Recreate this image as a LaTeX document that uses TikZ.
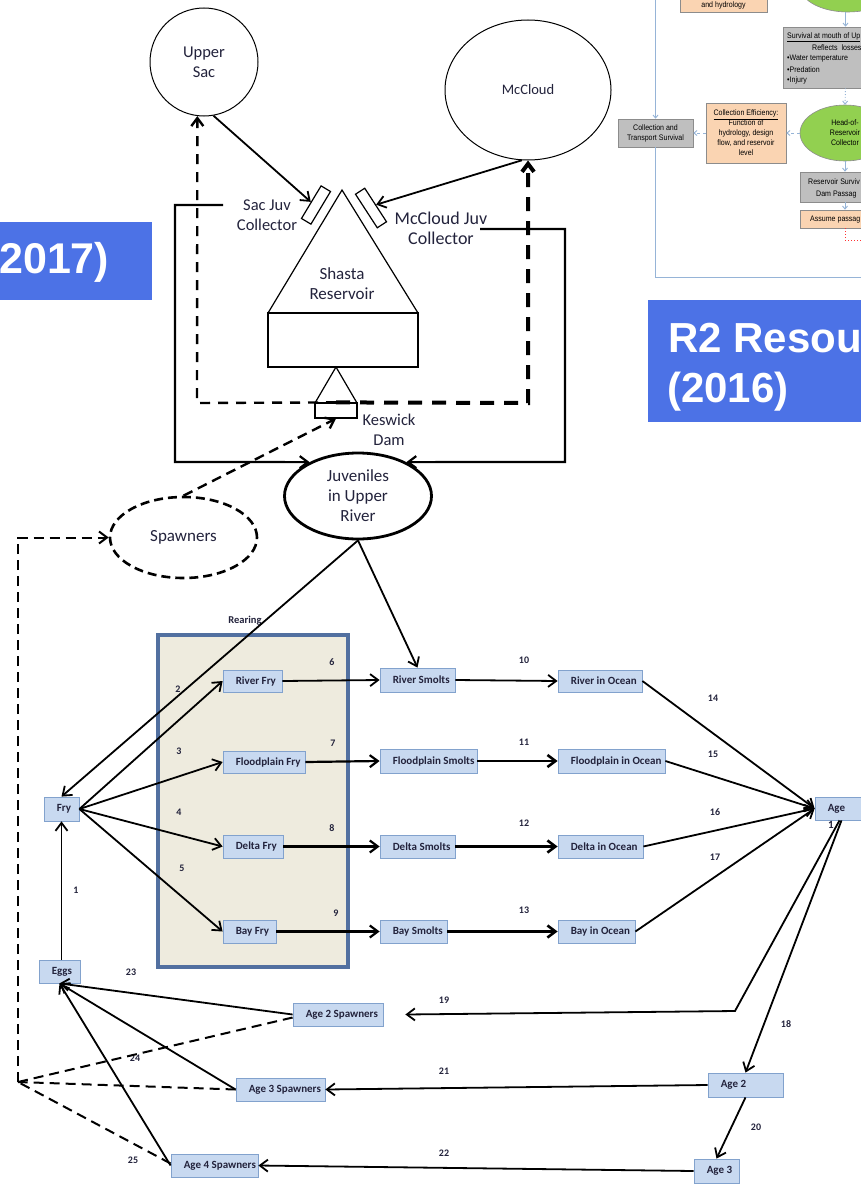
\documentclass[tikz,border=0pt]{standalone}
\usepackage{fontspec}
\setmainfont{Carlito}
\newfontfamily\arialf{Liberation Sans}
\newfontfamily\insetf{Liberation Sans}[FakeStretch=0.88]
\usetikzlibrary{arrows.meta,shapes.geometric,calc}
\definecolor{boxfill}{RGB}{200,217,240}
\definecolor{boxline}{RGB}{130,162,205}
\definecolor{rearfill}{RGB}{238,235,222}
\definecolor{rearline}{RGB}{82,112,160}
\definecolor{lblue}{RGB}{76,114,230}
\definecolor{ibl}{RGB}{150,180,215}
\definecolor{igray}{RGB}{191,191,191}
\definecolor{igrayline}{RGB}{140,140,140}
\definecolor{iorange}{RGB}{250,212,178}
\definecolor{igreen}{RGB}{146,208,80}
\definecolor{txtc}{RGB}{35,35,60}
\newcommand\mkbox[6]{%
  \node[bxs,minimum width={#4-#2},minimum height={#5-#3}] (#1) at ({(#2+#4)/2},{(#3+#5)/2}) {};
  \node[btxt] (#1t) at ([xshift=13pt]#1.west) {#6};}
\begin{document}
\begin{tikzpicture}[x=1pt,y=-1pt,
  >={Straight Barb[length=8pt,width=12pt]},
  arr/.style={->,line width=1.8pt},
  arrthick/.style={->,line width=2.6pt},
  dsh/.style={line width=2pt,dash pattern=on 10pt off 6pt},
  bxs/.style={draw=boxline,fill=boxfill,line width=0.8pt,inner sep=0pt,rectangle},
  btxt/.style={font=\bfseries\fontsize{11}{13}\selectfont,inner sep=0pt,anchor=west,text=txtc},
  num/.style={font=\bfseries\fontsize{10}{12}\selectfont,inner sep=0pt,text=txtc},
  lab/.style={font=\fontsize{17}{20}\selectfont,align=center,inner sep=0pt,text=txtc},
  ibox/.style={draw=igrayline,line width=0.6pt,inner sep=0pt,rectangle},
  itxt/.style={font=\insetf\fontsize{8}{10}\selectfont,inner sep=0pt,align=center},
  iarr/.style={draw=ibl,line width=0.9pt,-{Straight Barb[length=3pt,width=5pt]}},
  bluelab/.style={font=\arialf\bfseries\fontsize{43}{48}\selectfont,text=white,inner sep=0pt,anchor=base west}
]
\useasboundingbox (0,0) rectangle (861,1199);
\fill[white] (0,0) rectangle (861,1199);

% ---------------- inset (top right) ----------------
\node[ellipse,fill=igreen,draw=igrayline,line width=0.6pt,minimum width=95,minimum height=50] (topg) at (848,-13) {};
\node[ibox,fill=iorange,minimum width=87,minimum height=24] (hyd) at (723.5,0) {};
\node[itxt] (hydt) at (723.5,5) {and hydrology};
\node[ibox,fill=igray,minimum width=125,minimum height=61] (surv) at (845.5,57.5) {};
\node[itxt,anchor=west] (survt1) at (787,37) {\underline{Survival at mouth of Up}};
\node[itxt,anchor=west] (survt2) at (812,47.5) {Reflects\ \ losses};
\node[itxt,anchor=west] (survt3) at (787,58.5) {•Water temperature};
\node[itxt,anchor=west] (survt4) at (787,69.5) {•Predation};
\node[itxt,anchor=west] (survt5) at (787,80.5) {•Injury};
\node[ellipse,fill=igreen,draw=igrayline,line width=0.6pt,minimum width=90,minimum height=56,itxt] (head) at (845,133) {Head-of-\\Reservoir\\Collector};
\node[ibox,fill=iorange,minimum width=80,minimum height=60,itxt] (ceff) at (746,133) {\underline{Collection Efficiency:}\\Function of\\hydrology, design\\flow, and reservoir\\level};
\node[ibox,fill=igray,minimum width=75,minimum height=28,itxt] (ctrans) at (655.5,133) {Collection and\\Transport Survival};
\node[ibox,fill=igray,minimum width=90,minimum height=30] (ressv) at (845,187) {};
\node[itxt,anchor=west] (ressvt1) at (808,182) {Reservoir Surviv};
\node[itxt,anchor=west] (ressvt2) at (816,195) {Dam Passag};
\node[ibox,fill=iorange,minimum width=90,minimum height=18] (assume) at (845,219) {};
\node[itxt,anchor=west] (assumet) at (810,219.5) {Assume passag};
\coordinate (framet) at (655.5,0);
\coordinate (framee) at (870,277);
\coordinate (redend) at (870,240);
\draw[iarr] (framet) -- (ctrans.north);
\draw[ibl,line width=0.9pt] (ctrans.south) |- (framee);
\draw[iarr] (surv.north |- topg.south) -- (surv.north);
\draw[iarr,dotted] (surv.south) -- (head.north);
\draw[iarr] (head.south) -- (ressv.north);
\draw[iarr] (ressv.south) -- (assume.north);
\draw[iarr,dashed] (head.west) -- (ceff.east);
\draw[iarr,dashed] (ceff.west) -- (ctrans.east);
\draw[red!80,dotted,line width=1pt] (assume.south) |- (redend);

% ---------------- upper section ----------------
\node[ellipse,draw,line width=1pt,minimum width=108,minimum height=108,lab,font=\fontsize{16.5}{20}\selectfont] (upsac) at (204,62) {Upper\\Sac};
\node[ellipse,draw,line width=1pt,minimum width=166,minimum height=140,lab,font=\fontsize{14.5}{18}\selectfont] (mcc) at (528,90) {McCloud};
\draw[line width=1.2pt] (268,313) -- (342,190) -- (418,313);
\draw[line width=1.2pt,fill=white] (268,313) rectangle (418,367);
\node[lab] (shtxt) at (342,284) {Shasta\\Reservoir};
\draw[line width=1.2pt] (315,403) -- (336,367) -- (357,403);
\node[draw,line width=1.2pt,fill=white,minimum width=42,minimum height=15,inner sep=0pt] (kes) at (336,410.5) {};
\node[lab,font=\fontsize{16.5}{20}\selectfont] (kestxt) at (389,430) {Keswick\\Dam};
\node[draw,line width=1.2pt,fill=white,minimum width=38,minimum height=11,inner sep=0pt,rotate=59] (sacc) at (316,205) {};
\node[draw,line width=1.2pt,fill=white,minimum width=40,minimum height=11,inner sep=0pt,rotate=-57] (mccc) at (371,208) {};
\node[lab,font=\fontsize{16.5}{20}\selectfont] (sactxt) at (267,215) {Sac Juv\\Collector};
\node[lab,font=\fontsize{18}{20}\selectfont] (mctxt) at (441,228) {McCloud Juv\\Collector};
\node[ellipse,draw,line width=2.8pt,minimum width=147,minimum height=86,lab] (juv) at (358,496) {Juveniles\\in Upper\\River};
\node[ellipse,draw,line width=2.6pt,dash pattern=on 9pt off 5pt,minimum width=147,minimum height=81,lab] (spw) at (183.5,537.5) {Spawners};

\draw[->,line width=1.8pt] (upsac.-80) -- (sacc.north);
\draw[->,line width=1.8pt] (mcc.-95) -- (mccc.north);
\coordinate (sacL) at (223,205);
\coordinate (mcR) at (480,229);
\draw[->,line width=2.2pt] (sacL) -- (175,205) -- (175,462) -- (juv.145);
\draw[->,line width=2.2pt] (mcR) -- (565,229) -- (565,462) -- (juv.35);
\draw[->,line width=2.4pt,dash pattern=on 10pt off 8pt] (kes.north) -- (197,403) -- (upsac.263);
\draw[->,line width=4pt,dash pattern=on 14pt off 10pt] (kes.north) -- (528,403) -- (mcc.south);
\draw[->,dsh,line width=2.4pt] (spw.north) -- (kes.south);

% ---------------- rearing box ----------------
\draw[rearline,line width=3.5pt,fill=rearfill] (158,635) rectangle (348,967);
\node[num,font=\bfseries\fontsize{10.5}{12}\selectfont] (rear) at (245,621) {Rearing};

% numbers
\node[num] (n1) at (76,890) {1};
\node[num] (n2) at (178,689) {2};
\node[num] (n3) at (179,751) {3};
\node[num] (n4) at (179,812) {4};
\node[num] (n5) at (182,868) {5};
\node[num] (n6) at (332,662) {6};
\node[num] (n7) at (333,743) {7};
\node[num] (n8) at (332,828) {8};
\node[num] (n9) at (336,913) {9};
\node[num] (n10) at (524,660) {10};
\node[num] (n11) at (524,742) {11};
\node[num] (n12) at (524,823) {12};
\node[num] (n13) at (524,910) {13};
\node[num] (n14) at (713,698) {14};
\node[num] (n15) at (713,754) {15};
\node[num] (n16) at (715,812) {16};
\node[num] (n17) at (715,857) {17};
\node[num] (n18) at (786,1024) {18};
\node[num] (n19) at (444,1000) {19};
\node[num] (n20) at (756,1127) {20};
\node[num] (n21) at (444,1071) {21};
\node[num] (n22) at (444,1153) {22};
\node[num] (n23) at (131,972) {23};
\node[num] (n24) at (135,1058) {24};
\node[num] (n25) at (133,1160) {25};

% boxes
\mkbox{fry}{44}{797}{79}{821}{Fry}
\mkbox{eggs}{39}{960}{80}{983}{Eggs}
\mkbox{rfry}{223}{670}{282}{692}{River Fry}
\mkbox{ffry}{223}{751}{305}{773}{Floodplain Fry}
\mkbox{dfry}{223}{835}{283}{858}{Delta Fry}
\mkbox{bfry}{223}{920}{276}{943}{Bay Fry}
\mkbox{rsm}{380}{668}{455}{692}{River Smolts}
\mkbox{fsm}{380}{749}{477}{773}{Floodplain Smolts}
\mkbox{dsm}{380}{835}{455}{858}{Delta Smolts}
\mkbox{bsm}{380}{920}{447}{943}{Bay Smolts}
\mkbox{roc}{558}{670}{642}{692}{River in Ocean}
\mkbox{foc}{558}{749}{665}{773}{Floodplain in Ocean}
\mkbox{doc}{558}{835}{643}{858}{Delta in Ocean}
\mkbox{boc}{558}{920}{635}{943}{Bay in Ocean}
\mkbox{age1}{815}{797}{868}{820}{Age}
\node[btxt,anchor=center] (age1n) at (831,825) {1};
\mkbox{age2}{708}{1073}{783}{1097}{Age 2}
\mkbox{age3}{694}{1159}{739}{1183}{Age 3}
\mkbox{a2s}{293}{1003}{383}{1026}{Age 2 Spawners}
\mkbox{a3s}{236}{1078}{325}{1101}{Age 3 Spawners}
\mkbox{a4s}{171}{1154}{258}{1177}{Age 4 Spawners}

% connectors
\draw[arr] (juv.south) -- (fry.north);
\draw[arr] (juv.south) -- (rsm.north);
\draw[arr] (fry.east) -- (rfry.west);
\draw[arr] (fry.east) -- (ffry.west);
\draw[arr] (fry.east) -- (dfry.west);
\draw[arr] (fry.east) -- (bfry.west);
\draw[arr] (fry.south |- eggs.north) -- (fry.south);
\draw[arr] (rfry.east) -- (rsm.west);
\draw[arr,line width=2.2pt] (ffry.east) -- (fsm.west);
\draw[arr,line width=2.2pt] (dfry.east) -- (dsm.west);
\draw[arr,line width=2.2pt] (bfry.east) -- (bsm.west);
\draw[arr] (rsm.east) -- (roc.west);
\draw[arrthick] (fsm.east) -- (foc.west);
\draw[arrthick] (dsm.east) -- (doc.west);
\draw[arrthick] (bsm.east) -- (boc.west);
\draw[arr] (roc.east) -- (age1.west);
\draw[arr] (foc.east) -- (age1.west);
\draw[arr] (doc.east) -- (age1.west);
\draw[arr] (boc.east) -- (age1.west);
\coordinate (bend19) at (735,1011);
\draw[arr] ([xshift=-2pt]age1.south) -- (bend19) -- ([xshift=22pt]a2s.east);
\draw[arr] (age1.south) -- (age2.north);
\draw[arr] (age2.south) -- (age3.north);
\draw[arr] (age2.west) -- (a3s.east);
\draw[arr] (age3.west) -- (a4s.east);
\draw[arr] (a2s.west) -- (eggs.south);
\draw[arr] (a3s.west) -- (eggs.south);
\draw[arr] (a4s.west) -- (eggs.south);
\coordinate (dj) at (18,1082);
\draw[dsh] ([yshift=-3pt]a2s.west) -- (dj);
\draw[dsh] (a3s.west) -- (dj);
\draw[dsh] ([yshift=2pt]a4s.west) -- (dj);
\draw[dsh,->] (dj) |- (spw.west);

% ---------------- blue labels ----------------
\fill[lblue] (0,222) rectangle (152,300);
\node[bluelab] (lab2017) at (-1,273) {2017)};
\fill[lblue] (648,300) rectangle (870,422);
\node[bluelab,font=\arialf\bfseries\fontsize{42}{48}\selectfont] (labr2) at (668,352) {R2 Resou};
\node[bluelab,font=\arialf\bfseries\fontsize{42}{48}\selectfont] (lab2016) at (667,402) {(2016)};
\end{tikzpicture}
\end{document}
